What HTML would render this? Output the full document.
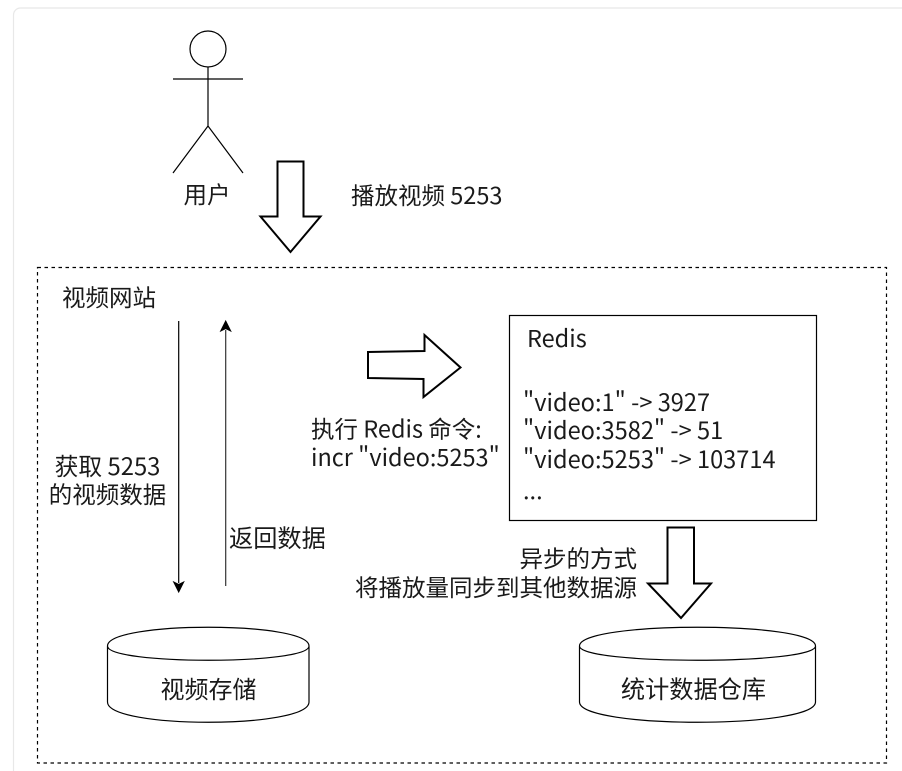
<!DOCTYPE html>
<html lang="zh">
<head>
<meta charset="utf-8">
<title>Diagram</title>
<style>
html,body{margin:0;padding:0;background:#fff;width:902px;height:771px;overflow:hidden}
svg{display:block}
text{font-family:"Noto Sans CJK SC","Liberation Sans",sans-serif;font-size:23.5px;fill:#1a1a1a}
.s{fill:none;stroke:#000;stroke-width:1.2}
.f{fill:#fff;stroke:#000;stroke-width:2;stroke-linejoin:miter}
</style>
</head>
<body>
<svg width="902" height="771" viewBox="0 0 902 771" xmlns="http://www.w3.org/2000/svg">
<path d="M13.500 771V15A7 7 0 0 1 20.500 8H902" fill="none" stroke="#e8e8e8" stroke-width="1.2"/>

<circle class="s" cx="208" cy="49" r="18"/>
<path class="s" d="M208 67V126M173 79H243M173 173L208 126L243 173"/>
<text x="207" y="203" text-anchor="middle">用户</text>

<path class="f" d="M277.5 161.5H303.5V216.5H320.5L290.5 252L260.5 216.5H277.5Z"/>
<text x="351" y="204">播放视频 5253</text>

<rect x="37.5" y="267.5" width="849" height="495.5" fill="none" stroke="#000" stroke-width="1.2" stroke-dasharray="3.5 3.5"/>
<text x="62" y="306">视频网站</text>

<path class="s" d="M178.700 321V583"/>
<path d="M173.700 582L178.700 592L183.700 582L178.700 584.500Z" fill="#000" stroke="#000"/>
<path class="s" d="M225.700 586V330" stroke-opacity=".8"/>
<path d="M220.700 331L225.700 321L230.700 331L225.700 328.500Z" fill="#000" stroke="#000"/>
<text x="107.500" y="475" text-anchor="middle" style="font-size:23.800px">获取 5253</text>
<text x="107.500" y="503" text-anchor="middle">的视频数据</text>
<text x="229" y="547" style="font-size:24.200px">返回数据</text>

<path class="f" d="M368 352L424.500 351V335L460.500 367.500L423.500 397V379L368 378Z"/>
<text x="311" y="437.500">执行 Redis 命令:</text>
<text x="311" y="466">incr "video:5253"</text>

<rect x="509.500" y="315.500" width="307" height="205" fill="#fff" stroke="#000" stroke-width="1.2"/>
<text x="527" y="347">Redis</text>
<text x="523" y="411" style="font-size:23.600px">"video:1" -&gt; 3927</text>
<text x="523" y="439" style="font-size:23.600px">"video:3582" -&gt; 51</text>
<text x="523" y="468" style="font-size:23.600px">"video:5253" -&gt; 103714</text>
<text x="523" y="499">...</text>

<path class="f" d="M667.500 527.500H694V583.500H711L681 618L648 583.500H667.500Z"/>
<text x="637" y="567" text-anchor="end">异步的方式</text>
<text x="637" y="596" text-anchor="end">将播放量同步到其他数据源</text>

<path class="s" d="M107.500 646C107.500 621 309 621 309 646V702C309 729 107.500 729 107.500 702ZM107.500 646C107.500 665 309 665 309 646"/>
<text x="208.500" y="698" text-anchor="middle" style="font-size:24px">视频存储</text>

<path class="s" d="M579.500 646C579.500 621 815.500 621 815.500 646V702C815.500 729 579.500 729 579.500 702ZM579.500 646C579.500 665 815.500 665 815.500 646"/>
<text x="693.500" y="698" text-anchor="middle" style="font-size:24.200px">统计数据仓库</text>
</svg>
</body>
</html>
